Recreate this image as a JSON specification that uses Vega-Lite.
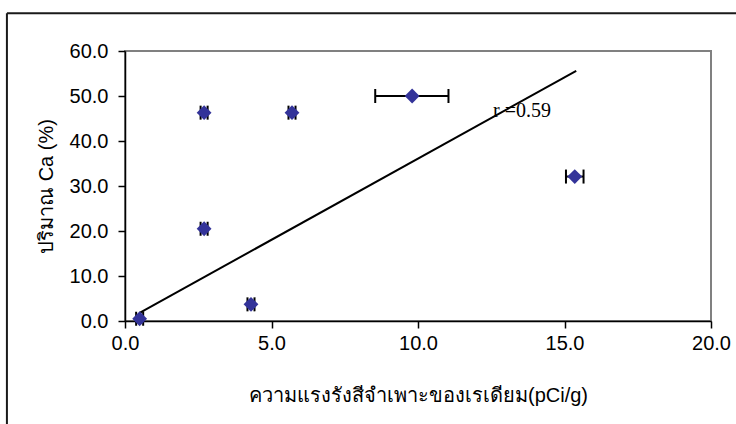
{
  "$schema": "https://vega.github.io/schema/vega-lite/v6.json",
  "width": 586,
  "height": 270,
  "autosize": {"type": "none"},
  "padding": {"left": 125, "top": 51, "right": 25, "bottom": 103},
  "background": "white",
  "config": {
    "font": "Liberation Sans",
    "view": {"stroke": "#808080", "strokeWidth": 2},
    "axis": {
      "grid": false,
      "domainColor": "#000000",
      "domainWidth": 1.5,
      "tickColor": "#000000",
      "tickWidth": 1.5,
      "tickSize": 7,
      "labelFlush": false,
      "labelOverlap": false,
      "labelFont": "Liberation Sans",
      "labelFontSize": 20,
      "labelColor": "#000000",
      "titleFont": "Liberation Sans",
      "titleFontSize": 20,
      "titleFontWeight": "normal",
      "titleColor": "#000000"
    }
  },
  "datasets": {
    "samples": [
      {"activity": 0.5, "ca": 0.5, "lo": 0.38, "hi": 0.62},
      {"activity": 2.7, "ca": 20.5, "lo": 2.58, "hi": 2.82},
      {"activity": 2.7, "ca": 46.3, "lo": 2.58, "hi": 2.82},
      {"activity": 5.7, "ca": 46.3, "lo": 5.58, "hi": 5.82},
      {"activity": 4.3, "ca": 3.7, "lo": 4.18, "hi": 4.42},
      {"activity": 9.8, "ca": 50.0, "lo": 8.54, "hi": 11.04},
      {"activity": 15.35, "ca": 32.1, "lo": 15.05, "hi": 15.65}
    ],
    "trend": [
      {"activity": 0.5, "ca": 1.8},
      {"activity": 15.4, "ca": 55.6}
    ],
    "notes": [
      {"activity": 12.56, "ca": 45.4, "label": "r =0.59"}
    ],
    "frame": [{}]
  },
  "layer": [
    {
      "data": {"name": "samples"},
      "mark": {"type": "point", "shape": "diamond", "filled": true, "opacity": 0, "size": 220},
      "encoding": {
        "x": {
          "field": "activity",
          "type": "quantitative",
          "scale": {"domain": [0, 20], "nice": false, "zero": false},
          "title": "ความแรงรังสีจำเพาะของเรเดียม(pCi/g)",
          "axis": {
            "values": [0, 5, 10, 15, 20],
            "format": ".1f",
            "labelFlush": false,
            "labelPadding": 5,
            "titlePadding": 32
          }
        },
        "y": {
          "field": "ca",
          "type": "quantitative",
          "scale": {"domain": [0, 60], "nice": false, "zero": false},
          "title": "ปริมาณ Ca (%)",
          "axis": {
            "values": [0, 10, 20, 30, 40, 50, 60],
            "format": ".1f",
            "labelFlush": false,
            "labelPadding": 10,
            "titlePadding": 13
          }
        }
      }
    },
    {
      "data": {"name": "frame"},
      "mark": {"type": "rule", "clip": false, "color": "#1a1a1a", "strokeWidth": 2},
      "encoding": {
        "x": {"datum": -4.03, "type": "quantitative", "title": "ความแรงรังสีจำเพาะของเรเดียม(pCi/g)"},
        "y": {"datum": 68.4, "type": "quantitative", "title": "ปริมาณ Ca (%)"},
        "y2": {"datum": -24}
      }
    },
    {
      "data": {"name": "frame"},
      "mark": {"type": "rule", "clip": false, "color": "#1a1a1a", "strokeWidth": 2},
      "encoding": {
        "x": {"datum": -4.03, "type": "quantitative", "title": "ความแรงรังสีจำเพาะของเรเดียม(pCi/g)"},
        "x2": {"datum": 21},
        "y": {"datum": 68.4, "type": "quantitative", "title": "ปริมาณ Ca (%)"}
      }
    },
    {
      "data": {"name": "trend"},
      "mark": {"type": "line", "color": "#000000", "strokeWidth": 2},
      "encoding": {
        "x": {"field": "activity", "type": "quantitative", "title": "ความแรงรังสีจำเพาะของเรเดียม(pCi/g)"},
        "y": {"field": "ca", "type": "quantitative", "title": "ปริมาณ Ca (%)"}
      }
    },
    {
      "data": {"name": "samples"},
      "mark": {"type": "rule", "color": "#000000", "strokeWidth": 2},
      "encoding": {
        "x": {"field": "lo", "type": "quantitative", "title": "ความแรงรังสีจำเพาะของเรเดียม(pCi/g)"},
        "x2": {"field": "hi"},
        "y": {"field": "ca", "type": "quantitative", "title": "ปริมาณ Ca (%)"}
      }
    },
    {
      "data": {"name": "samples"},
      "mark": {"type": "tick", "orient": "vertical", "color": "#000000", "size": 14, "thickness": 2, "opacity": 1},
      "encoding": {
        "x": {"field": "lo", "type": "quantitative", "title": "ความแรงรังสีจำเพาะของเรเดียม(pCi/g)"},
        "y": {"field": "ca", "type": "quantitative", "title": "ปริมาณ Ca (%)"}
      }
    },
    {
      "data": {"name": "samples"},
      "mark": {"type": "tick", "orient": "vertical", "color": "#000000", "size": 14, "thickness": 2, "opacity": 1},
      "encoding": {
        "x": {"field": "hi", "type": "quantitative", "title": "ความแรงรังสีจำเพาะของเรเดียม(pCi/g)"},
        "y": {"field": "ca", "type": "quantitative", "title": "ปริมาณ Ca (%)"}
      }
    },
    {
      "data": {"name": "samples"},
      "mark": {"type": "point", "shape": "diamond", "filled": true, "opacity": 1, "color": "#333399", "size": 220},
      "encoding": {
        "x": {"field": "activity", "type": "quantitative", "title": "ความแรงรังสีจำเพาะของเรเดียม(pCi/g)"},
        "y": {"field": "ca", "type": "quantitative", "title": "ปริมาณ Ca (%)"}
      }
    },
    {
      "data": {"name": "notes"},
      "mark": {"type": "text", "font": "Liberation Serif", "fontSize": 20, "align": "left", "baseline": "alphabetic", "color": "#000000"},
      "encoding": {
        "x": {"field": "activity", "type": "quantitative", "title": "ความแรงรังสีจำเพาะของเรเดียม(pCi/g)"},
        "y": {"field": "ca", "type": "quantitative", "title": "ปริมาณ Ca (%)"},
        "text": {"field": "label"}
      }
    }
  ]
}
